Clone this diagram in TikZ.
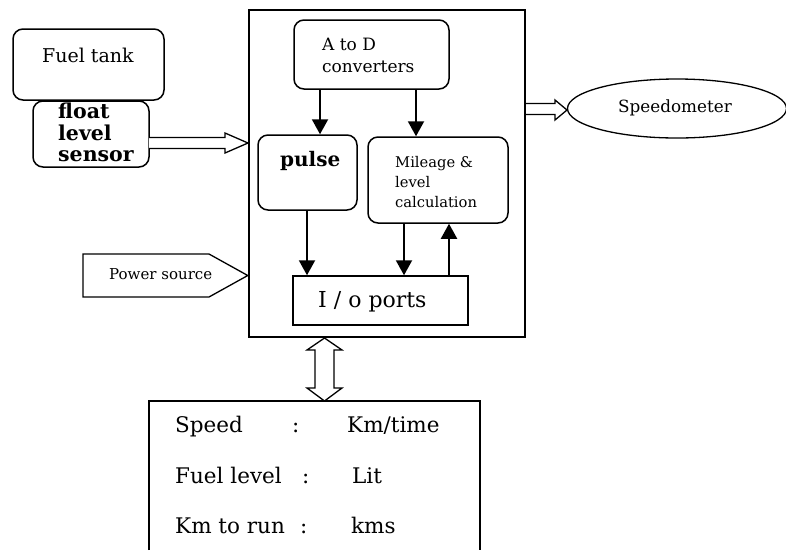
\documentclass[tikz,border=0pt]{standalone}
\usepackage{fontspec}
\setmainfont{DejaVu Serif}
\usetikzlibrary{arrows.meta,calc,shapes.geometric}
\begin{document}
\begin{tikzpicture}[x=1pt,y=-1pt,
 rbox/.style={draw,line width=1.5pt,rounded corners=10pt,inner sep=0pt},
 sbox/.style={draw,line width=1.5pt,inner sep=0pt},
 flow/.style={line width=2pt,-{Triangle[length=15pt,width=16pt]}},
 hollow/.style={draw,line width=1.3pt,fill=white,line join=miter},
 txt/.style={inner sep=0pt,anchor=base west},
 fa/.style={font=\fontsize{#1}{#1}\selectfont},
 fb/.style={font=\fontsize{#1}{#1}\selectfont\bfseries}]
\useasboundingbox (0,0) rectangle (786,550);
% boxes
\node[rbox,minimum width=151pt,minimum height=71pt] (tank) at (88.5,64.5) {};
\node[rbox,fill=white,minimum width=116pt,minimum height=66pt] (sens) at (91,134) {};
\node[draw,line width=2.5pt,minimum width=276pt,minimum height=327pt,inner sep=0pt] (main) at (387,173.5) {};
\node[rbox,minimum width=155pt,minimum height=69pt] (ad) at (371.5,54.5) {};
\node[rbox,minimum width=99pt,minimum height=75pt] (pulse) at (307.5,172.5) {};
\node[rbox,minimum width=140pt,minimum height=86pt] (mil) at (438,180) {};
\node[sbox,minimum width=175pt,minimum height=49pt] (io) at (380.5,300.5) {};
\node[draw,ellipse,line width=1.3pt,minimum width=219pt,minimum height=59pt,inner sep=0pt] (speedo) at (677,108.5) {};
% texts
\node[txt,fa=19] (t1) at (42,62) {Fuel tank};
\node[txt,fb=20.5] (t2) at (58,118) {float};
\node[txt,fb=20.5] (t3) at (58,140) {level};
\node[txt,fb=20.5] (t4) at (58,161) {sensor};
\node[txt,fa=17] (t5) at (322,50) {A to D};
\node[txt,fa=17] (t6) at (322,72) {converters};
\node[txt,fb=20] (t7) at (280,166) {pulse};
\node[txt,fa=14.7] (t8) at (395,167) {Mileage \&};
\node[txt,fa=14.7] (t9) at (395,187) {level};
\node[txt,fa=14.7] (t10) at (395,207) {calculation};
\node[txt,fa=22] (t11) at (318,307) {I / o ports};
\node[txt,fa=15] (t12) at (109,279) {Power source};
\node[txt,fa=16.8] (t13) at (618,112) {Speedometer};
\node[txt,fa=21.5] (b1) at (175,432) {Speed};
\node[txt,fa=21.5] (b2) at (292,432) {:};
\node[txt,fa=21.5] (b3) at (347,432) {Km/time};
\node[txt,fa=21.5] (b4) at (175,483) {Fuel level};
\node[txt,fa=21.5] (b5) at (302,483) {:};
\node[txt,fa=21.5] (b6) at (352,483) {Lit};
\node[txt,fa=21.5] (b7) at (175,533) {Km to run};
\node[txt,fa=21.5] (b8) at (300,533) {:};
\node[txt,fa=21.5] (b9) at (351,533) {kms};
% internal arrows
\coordinate (xa) at (320,0);
\coordinate (xb) at (416,0);
\coordinate (xc) at (307,0);
\coordinate (xd) at (404,0);
\coordinate (xe) at (449,0);
\draw[flow] (ad.south -| xa) -- (pulse.north -| xa);
\draw[flow] (ad.south -| xb) -- (mil.north -| xb);
\draw[flow] (pulse.south -| xc) -- (io.north -| xc);
\draw[flow] (mil.south -| xd) -- (io.north -| xd);
\draw[flow] (io.north -| xe) -- (mil.south -| xe);
% power source
\draw[line width=1.3pt,line join=miter] (83,254) -- (209,254) -- (main.west |- 0,275.5) -- (209,297) -- (83,297) -- cycle;
% hollow arrows
\draw[hollow] (149,137.5) -- (225,137.5) -- (225,133) -- (248,143) -- (225,153) -- (225,148.5) -- (149,148.5);
\draw[hollow] (526,103.5) -- (555,103.5) -- (555,100) -- (567,110) -- (555,120) -- (555,114.5) -- (526,114.5);
\draw[hollow] (324.5,338) -- (342,350) -- (334,350) -- (334,388) -- (342,388) -- (324.5,401) -- (307,388) -- (315,388) -- (315,350) -- (307,350) -- cycle;
% bottom box
\draw[line width=2pt] (149,550) -- (149,401) -- (480,401) -- (480,550);
\end{tikzpicture}
\end{document}
